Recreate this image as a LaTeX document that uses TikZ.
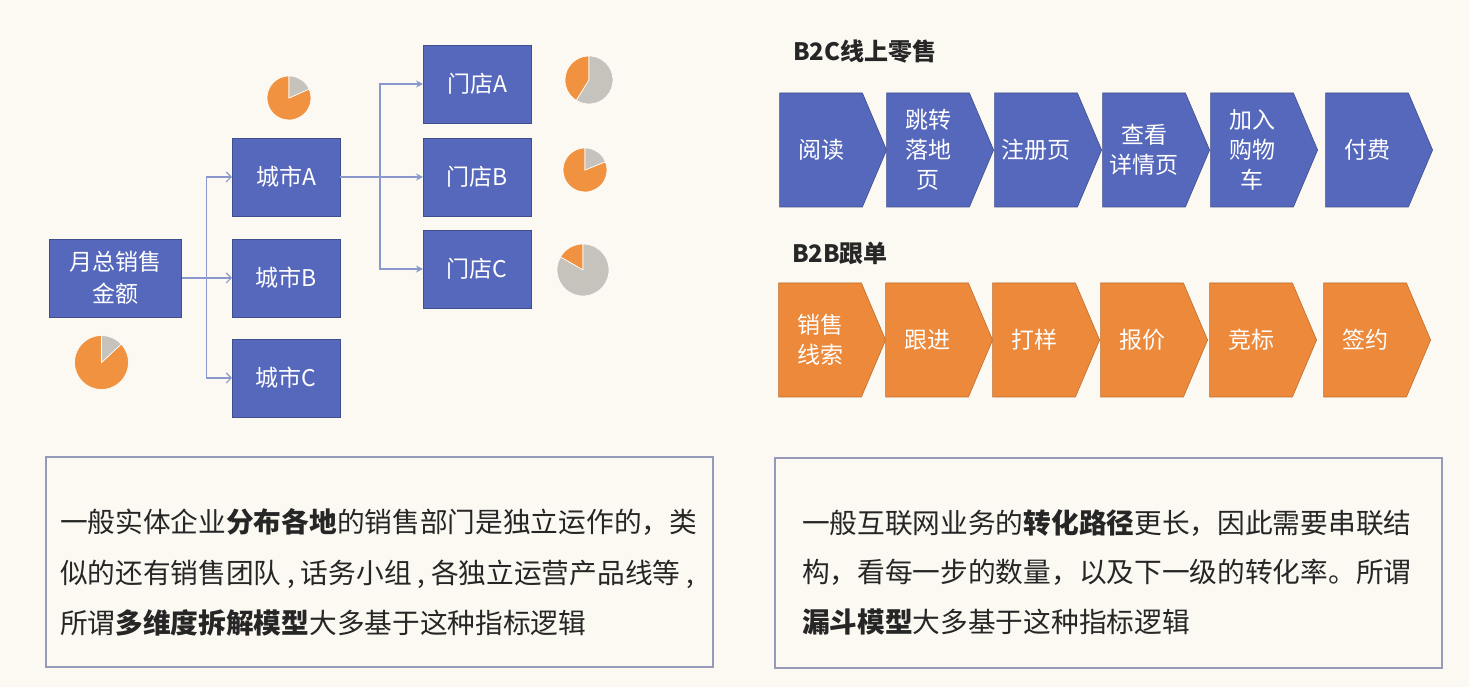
\documentclass[tikz,border=0pt]{standalone}
\usepackage{fontspec}
\setmainfont{Noto Sans CJK SC}
\usetikzlibrary{arrows.meta,shapes.symbols}
\definecolor{boxblue}{RGB}{86,104,188}
\definecolor{boxorange}{RGB}{236,137,58}
\definecolor{pieorange}{RGB}{240,146,64}
\definecolor{piegray}{RGB}{198,195,188}
\definecolor{linkblue}{RGB}{138,152,206}
\definecolor{paper}{RGB}{251,249,241}
\definecolor{ink}{RGB}{38,38,38}
\definecolor{framegray}{RGB}{150,154,184}
\newcommand{\narrowcomma}{\makebox[0.7em][c]{,}}

\begin{document}
\begin{tikzpicture}[x=1pt,y=1pt,inner sep=0pt,outer sep=0pt,
blockbox/.style={draw=boxblue!75!black,fill=boxblue,text=white,line width=0.8pt,minimum width=108pt,minimum height=78pt,align=center,font=\fontsize{23}{32}\selectfont},
stepsig/.style={shape=signal,signal to=east,signal from=nowhere,signal pointer angle=134,minimum width=107pt,minimum height=114pt,line width=0.6pt,text=white,align=center,font=\fontsize{23}{30}\selectfont},
link/.style={linkblue,line width=1.1pt},
rowtitle/.style={anchor=west,text=ink,font=\bfseries\fontsize{24}{28}\selectfont},
textline/.style={anchor=west,text=ink,font=\fontsize{27.7}{30}\selectfont},
noteframe/.style={draw=framegray,line width=1.2pt}]
\fill[paper] (0,0) rectangle (1469,687);
\useasboundingbox (0,0) rectangle (1469,687);

\draw (115.5,409) node[blockbox,minimum width=132pt] (total) {月总销售\\金额};
\draw (286,510) node[blockbox] (cityA) {城市A};
\draw (286,409) node[blockbox] (cityB) {城市B};
\draw (286,309) node[blockbox] (cityC) {城市C};
\draw (477,603) node[blockbox] (storeA) {门店A};
\draw (477,510) node[blockbox] (storeB) {门店B};
\draw (477,418) node[blockbox] (storeC) {门店C};

\draw[link,-{Straight Barb[length=5pt,width=10pt]}] (total.east) -- ++(25,0) |- (cityA.west);
\draw[link,-{Straight Barb[length=5pt,width=10pt]}] (total.east) -- (cityB.west);
\draw[link,-{Straight Barb[length=5pt,width=10pt]}] (total.east) -- ++(25,0) |- (cityC.west);
\draw[link,-{Stealth[length=7pt,width=7pt]}] (cityA.east) -- ++(40,0) |- (storeA.west);
\draw[link,-{Stealth[length=7pt,width=7pt]}] (cityA.east) -- (storeB.west);
\draw[link,-{Stealth[length=7pt,width=7pt]}] (cityA.east) -- ++(40,0) |- (storeC.west);

\foreach \cx/\cy/\r/\a in {101.5/324.5/27/403,289/589/22/384,589/607/24/238,585/517/22/382,583/417/26/150}{
  \filldraw[fill=pieorange,draw=white,line width=0.6pt] (\cx,\cy) -- ++(90:\r) arc[start angle=90,end angle=\a,radius=\r] -- cycle;
  \filldraw[fill=piegray,draw=white,line width=0.6pt] (\cx,\cy) -- ++(\a:\r) arc[start angle=\a,end angle=450,radius=\r] -- cycle;
}

\draw (793,635) node[rowtitle] (b2cTitle) {B2C线上零售};
\draw (792,434) node[rowtitle] (b2bTitle) {B2B跟单};

\foreach \cx/\lbl [count=\i] in {821/阅读,928/{跳转\\落地\\页},1036/注册页,1144/{查看\\详情页},1252/{加入\\购物\\车},1367/付费}
  \draw (\cx,537) node[stepsig,fill=boxblue,draw=boxblue!75!black] (b2c\i) {\lbl};
\foreach \cx/\lbl [count=\i] in {820/{销售\\线索},927/跟进,1034/打样,1142/报价,1251/竞标,1365/签约}
  \draw (\cx,347) node[stepsig,fill=boxorange,draw=boxorange!80!black] (b2b\i) {\lbl};

\draw[noteframe] (46,20) rectangle (713,230);
\draw[noteframe] (775,19) rectangle (1442,229);
\draw (60,165) node[textline] (left1) {一般实体企业\textbf{分布各地}的销售部门是独立运作的，类};
\draw (60,113) node[textline] (left2) {似的还有销售团队\narrowcomma 话务小组\narrowcomma 各独立运营产品线等\narrowcomma};
\draw (60,64) node[textline] (left3) {所谓\textbf{多维度拆解模型}大多基于这种指标逻辑};
\draw (802,164) node[textline] (right1) {一般互联网业务的\textbf{转化路径}更长，因此需要串联结};
\draw (802,115) node[textline] (right2) {构，看每一步的数量，以及下一级的转化率。所谓};
\draw (802,65) node[textline] (right3) {\textbf{漏斗模型}大多基于这种指标逻辑};

\end{tikzpicture}
\end{document}
